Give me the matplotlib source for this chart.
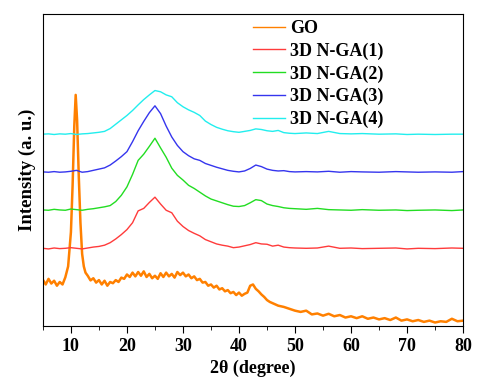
import numpy as np
import matplotlib
matplotlib.use("Agg")
import matplotlib.pyplot as plt
from matplotlib.ticker import MultipleLocator

plt.rcParams['font.family'] = ['Liberation Serif', 'DejaVu Serif']
plt.rcParams['font.weight'] = 'bold'

# 2theta grid for the N-GA samples
xs = [5, 6, 7, 8, 9, 10, 11, 12, 13, 14, 15, 16, 17, 18, 19, 20, 21, 22, 23, 24,
      25, 26, 27, 28, 29, 30, 31, 32, 33, 34, 35, 36, 37, 38, 39, 40, 41, 42, 43, 44,
      45, 46, 47, 48, 49, 50, 52, 54, 56, 58, 60, 62, 65, 68, 70, 72, 75, 78, 80]

nga1 = [24.8, 24.6, 24.9, 24.7, 24.8, 25.0, 24.8, 24.6, 24.9, 25.2, 25.4, 25.8, 26.6, 27.8, 29.2, 30.8, 33.0, 36.8, 37.6, 39.5,
        41.2, 39.0, 37.0, 36.2, 33.5, 31.8, 30.5, 29.6, 28.8, 27.6, 26.9, 26.2, 25.8, 25.5, 25.0, 25.2, 25.6, 26.0, 26.6, 26.2,
        26.1, 25.5, 25.8, 25.2, 25.0, 24.9, 24.8, 24.9, 25.5, 24.8, 24.9, 24.7, 24.8, 24.9, 24.6, 24.8, 24.7, 24.9, 24.8]

nga2 = [37.1, 37.0, 37.3, 37.1, 37.0, 37.4, 37.2, 37.0, 37.3, 37.5, 37.8, 38.1, 38.5, 39.8, 41.8, 44.5, 48.5, 53.0, 55.0, 57.5,
        60.1, 57.0, 54.0, 50.5, 48.2, 46.7, 45.0, 44.0, 42.8, 41.6, 40.6, 40.0, 39.4, 38.8, 38.3, 38.2, 38.5, 39.4, 40.4, 40.1,
        39.0, 38.5, 38.2, 37.8, 37.6, 37.5, 37.3, 37.6, 37.2, 37.1, 37.0, 37.2, 37.0, 37.1, 36.9, 37.0, 37.1, 36.9, 37.1]

nga3 = [49.3, 49.2, 49.4, 49.2, 49.3, 49.5, 49.8, 49.2, 49.4, 49.8, 50.2, 50.6, 51.5, 52.8, 54.2, 55.8, 59.0, 62.5, 65.5, 68.3,
        70.5, 68.0, 64.0, 60.5, 57.8, 55.8, 54.5, 53.5, 53.0, 52.0, 51.4, 50.8, 50.3, 49.8, 49.5, 49.3, 49.6, 50.4, 51.5, 51.0,
        50.2, 49.8, 49.6, 49.7, 49.4, 49.3, 49.4, 49.3, 49.5, 49.2, 49.4, 49.3, 49.2, 49.4, 49.3, 49.2, 49.3, 49.2, 49.4]

nga4 = [61.4, 61.5, 61.3, 61.5, 61.4, 61.6, 61.3, 61.5, 61.6, 61.8, 62.0, 62.3, 63.2, 64.6, 66.0, 67.4, 69.0, 70.8, 72.5, 74.0,
        75.4, 75.0, 74.0, 73.4, 71.5, 70.2, 69.2, 68.4, 67.4, 65.6, 64.5, 63.6, 63.0, 62.5, 62.2, 62.0, 62.3, 62.6, 63.1, 62.9,
        62.5, 62.3, 62.6, 61.9, 61.7, 61.6, 61.8, 61.6, 62.3, 61.6, 61.5, 61.6, 61.4, 61.5, 61.3, 61.4, 61.3, 61.4, 61.4]

# GO pattern
go_x = [5, 5.5, 6, 6.5, 7, 7.5, 8, 8.5, 9, 9.5,
        10, 10.3, 10.6, 10.85, 11.1, 11.4, 11.7, 12, 12.3, 12.6,
        13, 13.5, 14, 14.5, 15, 15.5, 16, 16.5, 17, 17.5,
        18, 18.5, 19, 19.5, 20, 20.5, 21, 21.5, 22, 22.5,
        23, 23.5, 24, 24.5, 25, 25.5, 26, 26.5, 27, 27.5,
        28, 28.5, 29, 29.5, 30, 30.5, 31, 31.5, 32, 32.5,
        33, 33.5, 34, 34.5, 35, 35.5, 36, 36.5, 37, 37.5,
        38, 38.5, 39, 39.5, 40, 40.5, 41, 41.5, 42, 42.5,
        43, 43.5, 44, 44.5, 45, 45.5, 46, 47, 48, 49,
        50, 51, 52, 53, 54, 55, 56, 57, 58, 59,
        60, 61, 62, 63, 64, 65, 66, 67, 68, 69,
        70, 71, 72, 73, 74, 75, 76, 77, 78, 79, 80]
go_y = [14.7, 13.2, 15.0, 13.5, 14.4, 12.8, 14.0, 13.2, 15.5, 19.0,
        30.0, 45.0, 64.0, 74.0, 66.0, 48.0, 33.0, 23.0, 19.0, 17.0,
        16.0, 14.5, 15.2, 13.8, 14.6, 13.2, 14.4, 12.8, 14.0, 13.6,
        14.6, 14.0, 15.4, 15.0, 16.4, 15.6, 17.0, 15.8, 17.2, 16.0,
        17.4, 15.6, 16.6, 15.2, 16.0, 15.0, 16.8, 15.6, 17.0, 15.8,
        16.6, 15.4, 17.2, 16.2, 17.0, 15.8, 16.4, 15.2, 15.8, 14.6,
        15.0, 13.8, 14.0, 12.8, 13.2, 12.2, 12.8, 11.6, 12.0, 11.0,
        11.4, 10.4, 10.8, 9.8, 10.6, 9.6, 10.2, 10.6, 12.8, 13.2,
        11.8, 11.0, 10.0, 9.2, 8.2, 7.6, 7.2, 6.4, 6.0, 5.4,
        4.8, 4.4, 4.8, 3.6, 3.9, 3.2, 3.8, 3.0, 3.4, 2.6,
        3.0, 2.4, 3.0, 2.2, 2.6, 2.0, 2.4, 1.8, 2.6, 1.6,
        2.0, 1.4, 1.8, 1.2, 1.6, 1.0, 1.4, 1.2, 2.2, 1.4, 1.6]

labels = ['GO', '3D N-GA(1)', '3D N-GA(2)', '3D N-GA(3)', '3D N-GA(4)']
colors = ['#FF8000', '#FF3B3B', '#22DD22', '#3535EE', '#22EEEE']

fig = plt.figure(figsize=(4.99, 3.84), dpi=100)
ax = fig.add_axes([0.086, 0.152, 0.842, 0.812])

ax.plot(go_x, go_y, color=colors[0], lw=1.8, label=labels[0])
for ys, lab, c in zip([nga1, nga2, nga3, nga4], labels[1:], colors[1:]):
    ax.plot(xs, ys, color=c, lw=1.0, label=lab)

ax.set_xlim(5, 80)
ax.set_ylim(0, 100)
ax.xaxis.set_major_locator(MultipleLocator(10))
ax.xaxis.set_minor_locator(MultipleLocator(5))
ax.set_yticks([])
ax.tick_params(axis='x', which='both', direction='out', top=False, labelsize=13, pad=4)
ax.tick_params(axis='x', which='major', length=5)
ax.tick_params(axis='x', which='minor', length=3)
for lbl in ax.get_xticklabels():
    lbl.set_fontweight('bold')

ax.set_xlabel('2θ (degree)', fontsize=13, fontweight='bold', labelpad=3)
ax.set_ylabel('Intensity (a. u.)', fontsize=13.5, fontweight='bold', labelpad=5)

leg = ax.legend(loc='upper left', bbox_to_anchor=(0.5, 0.98), frameon=False,
                fontsize=13, handlelength=1.75, handletextpad=0.3,
                labelspacing=0.3, borderaxespad=0, borderpad=0)
for ln in leg.get_lines():
    ln.set_linewidth(1.0)
for t in leg.get_texts():
    t.set_fontweight('bold')

fig.savefig('out.png', dpi=100)
